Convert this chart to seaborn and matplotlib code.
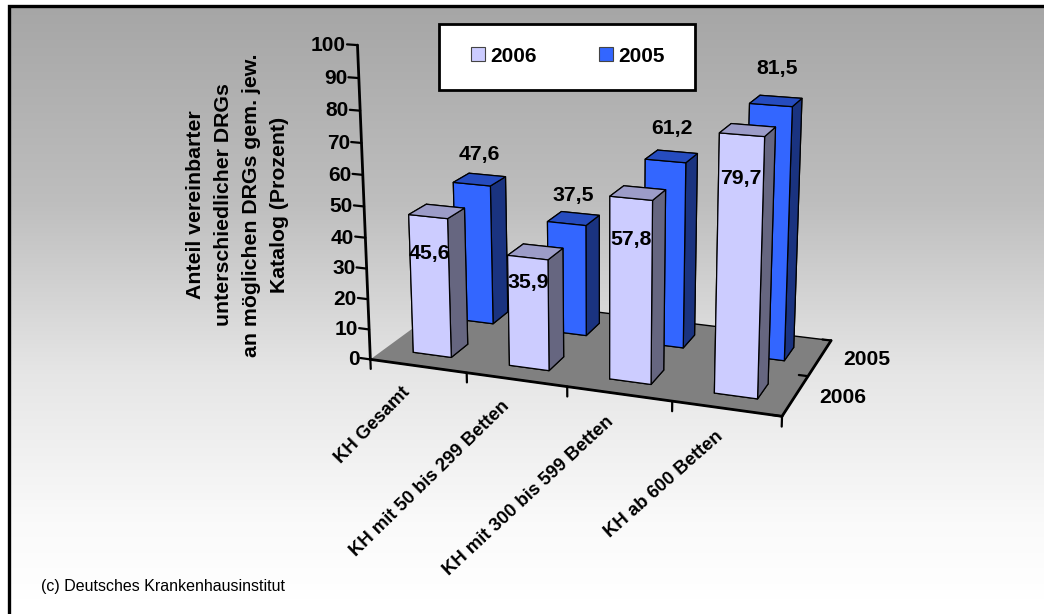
import numpy as np
import matplotlib
matplotlib.use("Agg")
import matplotlib.pyplot as plt
from matplotlib.colors import LinearSegmentedColormap
from matplotlib.patches import Patch, Rectangle
import seaborn as sns

W, H = 1044, 614
FONT = "Liberation Sans"

categories = ["KH Gesamt", "KH mit 50 bis 299 Betten", "KH mit 300 bis 599 Betten", "KH ab 600 Betten"]
series_names = ["2006", "2005"]
values_2006 = [45.6, 35.9, 57.8, 79.7]
values_2005 = [47.6, 37.5, 61.2, 81.5]
value_ticks = list(range(0, 101, 10))
y_title = "Anteil vereinbarter\nunterschiedlicher DRGs\nan möglichen DRGs gem. jew.\nKatalog (Prozent)"
credit = "(c) Deutsches Krankenhausinstitut"

# Share of each front bar's height at which its value label sits
label_share_2006 = [0.737, 0.78, 0.78, 0.837]

sns.set_theme(style="white", rc={"font.family": FONT, "font.weight": "bold", "text.color": "black"})
face_2006, face_2005 = sns.color_palette(["#CCCCFF", "#3366FF"])
top_2006, top_2005 = "#9C9CC8", "#264CBF"
side_2006, side_2005 = "#666680", "#1A3380"

fig = plt.figure(figsize=(W / 100, H / 100), dpi=100, facecolor="white")

# Page background: vertical grey-to-white gradient inside an open black frame
bg = fig.add_axes([0, 0, 1, 1], zorder=-1)
bg.axis("off")
ramp = LinearSegmentedColormap.from_list("page", [(0, "#A6A6A6"), (0.33, "#BEBEBE"), (0.62, "#E6E6E6"), (0.87, "#FAFAFA"), (1, "#FFFFFF")])
bg.imshow(np.linspace(0, 1, 256)[:, None], cmap=ramp, vmin=0, vmax=1, aspect="auto", extent=(8, W, 600, 6), zorder=0)
bg.set_xlim(0, W)
bg.set_ylim(H, 0)
bg.plot([8.5, 8.5, W], [H, 6, 6], color="black", lw=2.4, solid_joinstyle="miter", zorder=1)
bg.text(40.7, 587, credit, fontsize=11.5, fontweight="normal", va="center", ha="left")
bg.text(237.5, 205, y_title, rotation=90, fontsize=15.3, ha="center", va="center", multialignment="center", linespacing=1.62)

# Perspective chart
side = 702.44
cx, cy = 594.785, 208.514
ax = fig.add_axes([(cx - side / 2) / W, (H - cy - side / 2) / H, side / W, side / H], projection="3d", computed_zorder=False)
ax.patch.set_alpha(0)
ax.set_xlim(0, 4, view_margin=0)
ax.set_ylim(0, 2, view_margin=0)
ax.set_zlim(0, 100, view_margin=0)
ax.view_init(elev=15.70, azim=-70.15, roll=0)
ax.set_proj_type("persp", focal_length=0.4347)
ax.set_box_aspect((1, 0.4958, 0.7541), zoom=0.7937)
ax.grid(False)

ax.xaxis.set_pane_color((0, 0, 0, 0))
ax.yaxis.set_pane_color((0, 0, 0, 0))
ax.xaxis.pane.set_edgecolor((0, 0, 0, 0))
ax.yaxis.pane.set_edgecolor((0, 0, 0, 0))
ax.zaxis.set_pane_color("#808080")
ax.zaxis.pane.set_edgecolor("black")

ax.set_xticks(range(5))
ax.set_xticklabels([])
ax.set_yticks(range(3))
ax.set_yticklabels([])
ax.set_zticks(value_ticks)
ax.set_zticklabels([str(v) for v in value_ticks], fontsize=15, fontweight="bold", ha="right", va="center", color="black")
ax.zaxis.set_ticks_position("lower")
ax.tick_params(axis="z", pad=-2)

# Tick directions: category ticks hang down, the other two run along the x axis
ax.xaxis._get_tickdir = lambda position: 2
ax.yaxis._get_tickdir = lambda position: 0
ax.zaxis._get_tickdir = lambda position: 0
for axis, out in ((ax.xaxis, 0.4), (ax.yaxis, 0.27), (ax.zaxis, 0.33)):
    axis._axinfo["tick"]["inward_factor"] = 0
    axis._axinfo["tick"]["outward_factor"] = out
    axis._axinfo["tick"]["linewidth"] = {True: 1.6, False: 1.0}
    axis._axinfo["tick"]["color"] = "black"
    axis.line.set_linewidth(2.0)
    axis.line.set_color("black")
    axis.set_tick_params(color="black", width=1.6)
    axis.label.set_visible(False)
    axis.offsetText.set_visible(False)

GAP_X, GAP_Y = 0.30, 0.31
def draw_row(values, row, face, top, flank, order):
    for i, v in enumerate(values):
        colors = [face, top, face, face, flank, flank]
        ax.bar3d(i + GAP_X, row + GAP_Y, 0, 1 - 2 * GAP_X, 1 - 2 * GAP_Y, v, color=colors, shade=False,
                 edgecolor="black", linewidth=0.9, zorder=order + i)

draw_row(values_2005, 1, face_2005, top_2005, side_2005, 10)
draw_row(values_2006, 0, face_2006, top_2006, side_2006, 20)

for i, (v, share) in enumerate(zip(values_2006, label_share_2006)):
    ax.text(i + 0.5, GAP_Y, v * share, f"{v:.1f}".replace(".", ","), fontsize=15.3, ha="center", va="center", zorder=40)
for i, v in enumerate(values_2005):
    ax.text(i + 0.5, 1.5, v * 1.05 + 6, f"{v:.1f}".replace(".", ","), fontsize=15.3, ha="center", va="center", zorder=40)

# Text3D takes its angle from zdir: this direction reads as roughly 45 degrees on screen
for i, name in enumerate(categories):
    ax.text(i + 0.49, -0.33, -1.8, name, zdir=(0.1, 0, 3.6), fontsize=13.3, ha="right", va="top", rotation_mode="anchor", zorder=40)
for i, name in enumerate(series_names):
    ax.text(4.22, i + 0.5, 0.5, name, fontsize=15.2, ha="left", va="center", zorder=40)

# Legend panel
bg.add_patch(Rectangle((439, 24), 256, 66, facecolor="white", edgecolor="black", lw=2, zorder=2))
handles = [Patch(facecolor=face_2006, edgecolor="#444444", lw=0.8, label=series_names[0]),
           Patch(facecolor=face_2005, edgecolor="#444444", lw=0.8, label=series_names[1])]
fig.legend(handles=handles, ncols=2, frameon=False, loc="center", bbox_to_anchor=(568 / W, 1 - 56 / H), fontsize=15,
           handlelength=0.65, handleheight=0.65, handletextpad=0.25, columnspacing=3.0)

fig.savefig("out.png", dpi=100)
